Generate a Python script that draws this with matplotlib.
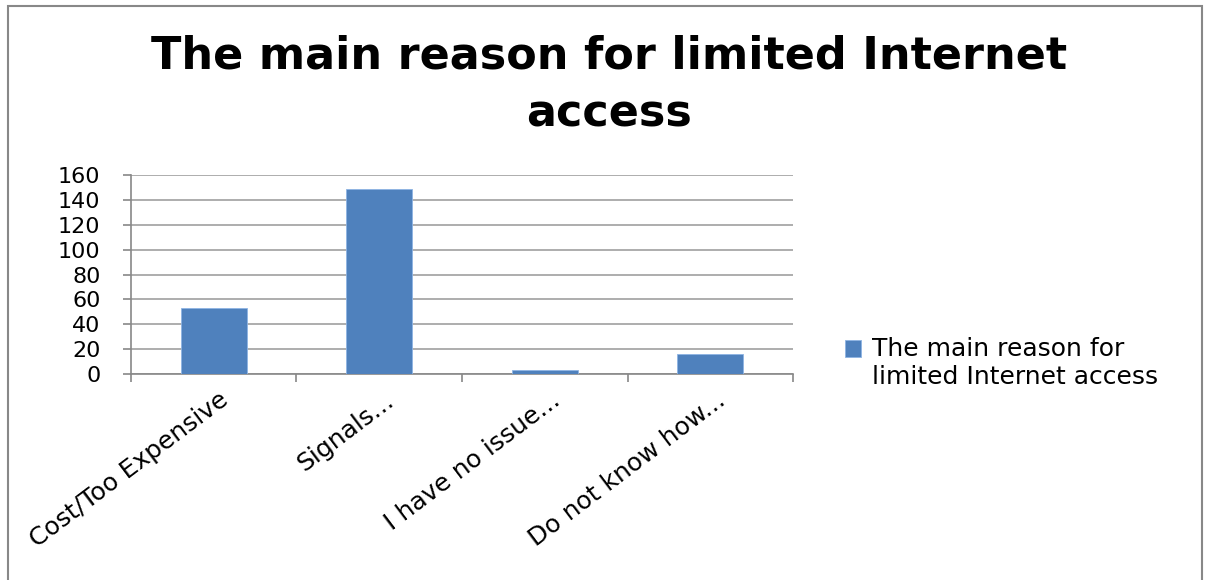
import numpy as np
import matplotlib.pyplot as plt
import matplotlib.transforms as mtransforms
from matplotlib.patches import Rectangle
from matplotlib.legend_handler import HandlerPatch

# data
categories = ["Cost/Too Expensive", "Signals...", "I have no issue...", "Do not know how..."]
counts = [53, 149, 3.5, 16]
series_name = "The main reason for\nlimited Internet access"
title = "The main reason for limited Internet\naccess"

fig = plt.figure(figsize=(12.06, 5.8), dpi=100)
ax = fig.add_axes([0.1086, 0.355, 0.549, 0.343])

x = np.arange(len(categories))
bars = ax.bar(x, counts, width=0.4, color="#4f81bd", edgecolor="#8eb4e3", linewidth=0.6,
              label=series_name, zorder=3)

ax.set_xlim(-0.5, len(categories) - 0.5)
ax.set_ylim(0, 160)
ax.set_yticks(np.arange(0, 161, 20))
ax.yaxis.grid(True, color="#a0a0a0", linewidth=1.2, zorder=0)

# ticks at category boundaries, labels at centres
ax.set_xticks(np.arange(-0.5, len(categories), 1.0))
ax.set_xticklabels([])
ax.set_xticks(x, minor=True)
ax.set_xticklabels(categories, minor=True, rotation=37, ha="right",
                   rotation_mode="anchor", fontsize=18)
ax.tick_params(axis="x", which="minor", length=0, pad=10)
ax.tick_params(axis="x", which="major", length=6, color="#888888", width=1.2)
ax.tick_params(axis="y", length=6, color="#888888", width=1.2, labelsize=16, pad=16)

# small nudge right so the label ends sit just past the bar centre
shift = mtransforms.ScaledTranslation(5 / 100, 0, fig.dpi_scale_trans)
for lab in ax.get_xticklabels(minor=True):
    lab.set_transform(lab.get_transform() + shift)

for s in ["top", "right"]:
    ax.spines[s].set_visible(False)
for s in ["left", "bottom"]:
    ax.spines[s].set_color("#888888")
    ax.spines[s].set_linewidth(1.2)

fig.text(0.505, 0.94, title, ha="center", va="top", fontsize=32,
         fontweight="bold", linespacing=1.42)


# legend key sits next to the first line of the label
def top_square(legend, orig_handle, xdescent, ydescent, width, height, fontsize):
    return Rectangle((-xdescent, -ydescent + 0.62 * fontsize), width, height)


fig.legend(handles=[bars.patches[0]], labels=[series_name], loc="center left",
           bbox_to_anchor=(0.682, 0.374), frameon=False, fontsize=18,
           handlelength=0.65, handleheight=0.65, handletextpad=0.45,
           handler_map={Rectangle: HandlerPatch(patch_func=top_square)})

# outer chart border
fig.patches.append(Rectangle((0.007, -0.01), 0.99, 1.0, transform=fig.transFigure,
                             fill=False, edgecolor="#888888", linewidth=1.5))

fig.savefig("out.png", dpi=100)
